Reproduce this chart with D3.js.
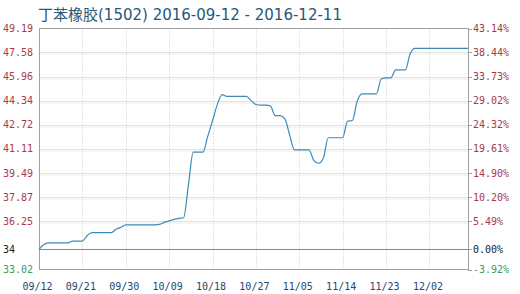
<!DOCTYPE html>
<html><head><meta charset="utf-8">
<script src="https://cdn.jsdelivr.net/npm/d3@7"></script>
<style>body{margin:0;background:#fff}svg{display:block}</style>
</head><body><svg id="c" width="520" height="294"></svg>
<script>
const title = "丁苯橡胶(1502) 2016-09-12 - 2016-12-11";
const startDate = "2016-09-12";
const prices = [
  34.37, 34.70, 34.81, 34.81, 34.81, 34.81, 34.81, 34.93, 34.93, 34.93,
  35.30, 35.50, 35.50, 35.50, 35.50, 35.50, 35.72, 35.85, 36.02, 36.02,
  36.02, 36.02, 36.02, 36.02, 36.02, 36.05, 36.18, 36.28, 36.38, 36.45,
  36.49, 38.70, 40.89, 40.89, 40.89, 41.95, 43.00, 44.10, 44.76, 44.63,
  44.63, 44.63, 44.63, 44.63, 44.35, 44.09, 44.05, 44.05, 44.00, 43.35,
  43.35, 43.13, 42.05, 41.05, 41.05, 41.05, 41.05, 40.35, 40.15, 40.50,
  41.86, 41.86, 41.86, 41.86, 42.97, 43.02, 44.30, 44.81, 44.81, 44.81,
  44.81, 45.80, 45.88, 45.88, 46.42, 46.42, 46.42, 47.50, 47.86, 47.86,
  47.86, 47.86, 47.86, 47.86, 47.86, 47.86, 47.86, 47.86, 47.86, 47.86
];
const xTickDates = ["2016-09-12","2016-09-21","2016-09-30","2016-10-09","2016-10-18","2016-10-27","2016-11-05","2016-11-14","2016-11-23","2016-12-02"];
const xTickLabels = ["09/12","09/21","09/30","10/09","10/18","10/27","11/05","11/14","11/23","12/02"];
const yTickValues = [49.19, 47.58, 45.96, 44.34, 42.72, 41.11, 39.49, 37.87, 36.25, 33.02];
const yTickLabels = ["49.19","47.58","45.96","44.34","42.72","41.11","39.49","37.87","36.25","33.02"];
const pctTickLabels = ["43.14%","38.44%","33.73%","29.02%","24.32%","19.61%","14.90%","10.20%","5.49%","-3.92%"];
const baseValue = 34.37;
const baseLabel = "34";
const basePctLabel = "0.00%";

const parse = d3.timeParse("%Y-%m-%d");
const t0 = parse(startDate);
const data = prices.map((v, i) => ({date: d3.timeDay.offset(t0, i), value: v}));

const L = 39, R = 468, T = 28.5, B = 269.5;
const x = d3.scaleTime().domain(d3.extent(data, d => d.date)).range([L, R]);
const y = d3.scaleLinear().domain([d3.min(yTickValues), d3.max(yTickValues)]).range([B, T]);

const svg = d3.select("#c");
svg.append("rect").attr("width", 520).attr("height", 294).attr("fill", "#fff");

const mono = "'DejaVu Sans Mono', 'Liberation Mono', monospace";
const red = "#a83a48", green = "#3f9a55", dark = "#222";

// horizontal grid
const hg = svg.append("g");
yTickValues.slice(1, -1).forEach(v => {
  const yy = Math.round(y(v)) + 0.5;
  hg.append("line").attr("x1", L).attr("x2", R).attr("y1", yy).attr("y2", yy)
    .attr("stroke", "#e2e2e2").attr("stroke-width", 1);
  hg.append("line").attr("x1", L).attr("x2", R).attr("y1", yy + 1.5).attr("y2", yy + 1.5)
    .attr("stroke", "#ececec").attr("stroke-width", 1);
});

// vertical grid
const vg = svg.append("g");
xTickDates.slice(1).forEach(d => {
  const xx = Math.round(x(parse(d))) + 0.5;
  vg.append("line").attr("x1", xx).attr("x2", xx).attr("y1", T).attr("y2", B)
    .attr("stroke", "#c8c8c8").attr("stroke-dasharray", "1,2");
});

// base line
const by = Math.round(y(baseValue)) + 0.5;
svg.append("line").attr("x1", L).attr("x2", R).attr("y1", by).attr("y2", by)
  .attr("stroke", "#8a8a8a");

// frame
svg.append("rect").attr("x", L + 0.5).attr("y", T).attr("width", R - L).attr("height", B - T)
  .attr("fill", "none").attr("stroke", "#a0a0a0");

// price line
const line = d3.line().x(d => x(d.date)).y(d => y(d.value)).curve(d3.curveMonotoneX);
svg.append("path").datum(data).attr("d", line).attr("fill", "none")
  .attr("stroke", "#3d8bb5").attr("stroke-width", 1.2);

// left labels
const yl = svg.append("g").attr("font-family", mono).attr("font-size", 10);
yTickValues.forEach((v, i) => {
  yl.append("text").attr("x", 3).attr("y", y(v)).attr("dy", "0.35em")
    .attr("fill", i === yTickValues.length - 1 ? green : red).text(yTickLabels[i]);
});
yl.append("text").attr("x", 3).attr("y", y(baseValue)).attr("dy", "0.35em")
  .attr("fill", dark).text(baseLabel);

// right labels + ticks
const rl = svg.append("g").attr("font-family", mono).attr("font-size", 10);
yTickValues.forEach((v, i) => {
  const yy = Math.round(y(v)) + 0.5;
  rl.append("line").attr("x1", R).attr("x2", R + 4).attr("y1", yy).attr("y2", yy).attr("stroke", "#a0a0a0");
  rl.append("text").attr("x", 473).attr("y", y(v)).attr("dy", "0.35em")
    .attr("fill", i === yTickValues.length - 1 ? green : red).text(pctTickLabels[i]);
});
rl.append("line").attr("x1", R).attr("x2", R + 4).attr("y1", by).attr("y2", by).attr("stroke", "#a0a0a0");
rl.append("text").attr("x", 473).attr("y", y(baseValue)).attr("dy", "0.35em")
  .attr("fill", dark).text(basePctLabel);

// bottom labels
const xl = svg.append("g").attr("font-family", mono).attr("font-size", 10).attr("fill", "#26466e");
xTickDates.forEach((d, i) => {
  xl.append("text").attr("x", x(parse(d)) - 1.5).attr("y", 290).attr("text-anchor", "middle").text(xTickLabels[i]);
});

// title
svg.append("text").attr("x", 38).attr("y", 20)
  .attr("font-family", "'DejaVu Sans', 'Noto Sans CJK SC', sans-serif").attr("font-size", 15)
  .attr("fill", "#275878").text(title);
</script></body></html>
